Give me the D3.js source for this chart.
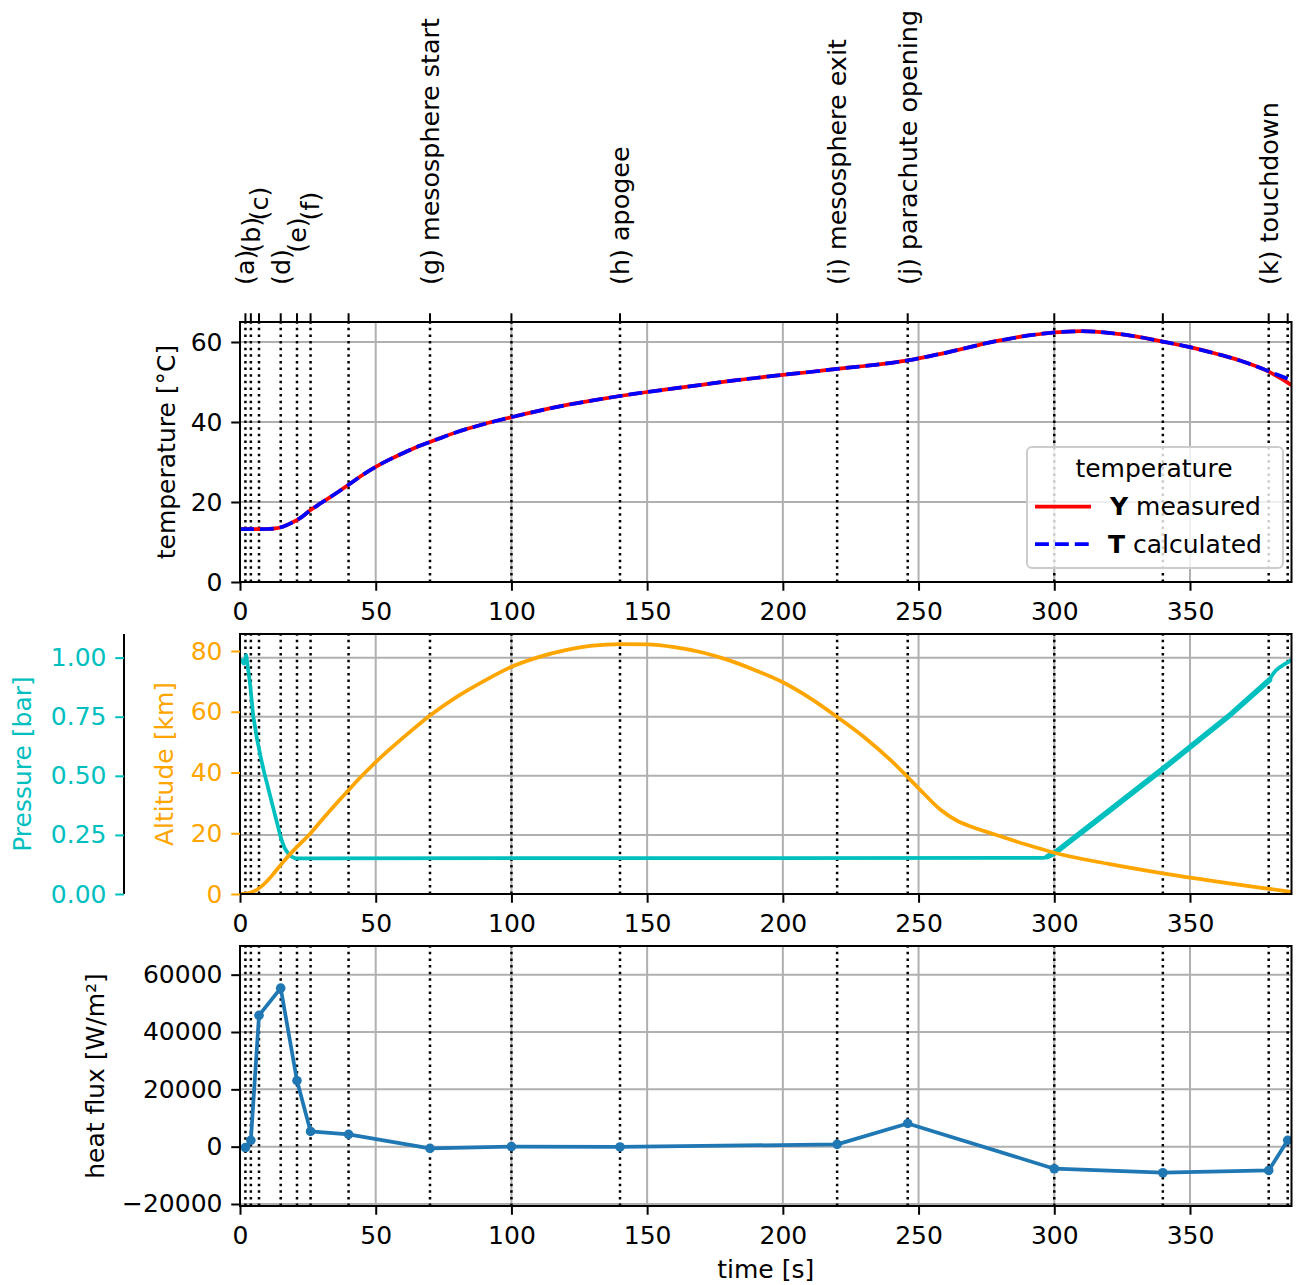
<!DOCTYPE html>
<html>
<head>
<meta charset="utf-8">
<script src="https://cdn.jsdelivr.net/npm/d3@7"></script>
<style>
  body { margin: 0; background: #fff; }
  svg text { font-family: "DejaVu Sans", sans-serif; }
</style>
</head>
<body>
<svg id="chart" width="1300" height="1285"></svg>
<script>
// ---- flight events (s) and their labels on the top axis ----
const eventTimes = [2, 4, 7, 15, 21, 26, 40, 70, 100, 140, 220, 246, 300, 340, 379, 386];
const eventLabels = ["(a)", "    (b)", "        (c)", "(d)", "    (e)", "        (f)", "",
  "(g) mesosphere start", "", "(h) apogee", "(i) mesosphere exit", "(j) parachute opening",
  "", "", "(k) touchdown", ""];

// ---- temperature ----
const tempTime = [0, 5, 10, 13, 16, 19, 22, 26, 30, 35, 40, 45, 50, 55, 60, 65, 70, 80, 90, 100,
  110, 120, 130, 140, 150, 160, 170, 180, 190, 200, 210, 220, 230, 240, 246, 250, 255, 260, 265, 270,
  275, 280, 285, 290, 295, 300, 305, 310, 315, 320, 330, 340, 350, 360, 370, 379, 383, 387.4];
const tempMeasured = [13.2, 13.2, 13.25, 13.4, 13.9, 14.8, 15.9, 18.0, 19.8, 22.0,
  24.3, 26.7, 28.8, 30.6, 32.2, 33.7, 35.0, 37.5, 39.5, 41.2,
  42.8, 44.2, 45.4, 46.5, 47.5, 48.4, 49.3, 50.2, 51.0, 51.8,
  52.5, 53.3, 54.0, 54.8, 55.4, 55.9, 56.6, 57.3, 58.1, 58.9,
  59.7, 60.4, 61.0, 61.6, 62.0, 62.4, 62.6, 62.7, 62.6, 62.3,
  61.4, 60.1, 58.7, 57.0, 55.0, 52.6, 51.1, 49.2];
const tempCalculated = [13.2, 13.2, 13.25, 13.4, 13.9, 14.8, 15.9, 18.0, 19.8, 22.0,
  24.3, 26.7, 28.8, 30.6, 32.2, 33.7, 35.0, 37.5, 39.5, 41.2,
  42.8, 44.2, 45.4, 46.5, 47.5, 48.4, 49.3, 50.2, 51.0, 51.8,
  52.5, 53.3, 54.0, 54.8, 55.4, 55.9, 56.6, 57.3, 58.1, 58.9,
  59.7, 60.4, 61.0, 61.6, 62.0, 62.4, 62.6, 62.7, 62.6, 62.3,
  61.4, 60.1, 58.7, 57.0, 55.0, 52.7, 51.6, 50.5];

// ---- altitude (km) ----
const altTime = [0, 2, 4, 6, 8, 10, 12, 15, 20, 26, 30, 35, 40, 45, 50, 55, 60, 70, 80, 90,
  100, 110, 120, 130, 140, 150, 160, 170, 180, 190, 200, 210, 220, 230, 240, 246, 252, 258, 264, 270,
  277, 290, 300, 320, 340, 360, 375, 387.4];
const altitude = [0, 0.1, 0.5, 1.3, 2.6, 4.3, 6.3, 9.6, 14.6, 20,
  24.2, 29.3, 34.2, 39, 43.4, 47.5, 51.4, 58.8, 65, 70.2,
  74.8, 78, 80.3, 81.8, 82.3, 82.2, 81.3, 79.6, 77, 73.6,
  69.7, 64.5, 58.3, 51.6, 43.8, 38.5, 33.0, 27.8, 24.2, 22.0,
  19.9, 16.2, 13.6, 9.9, 6.8, 4.1, 2.2, 0.7];

// ---- pressure (bar) ----
const presTime = [0, 1.4, 2.3, 3.0, 3.7, 4.3, 4.9, 5.5, 6.2, 7.0, 7.6, 8.4, 9.2, 10, 11, 12, 13, 14, 14.75,
  15.5, 16.3, 17.2, 18, 19, 20.3, 100, 200, 296.3, 297.5, 300.3, 320, 340.3, 364, 379.3, 380.5, 381.8,
  383.2, 384.5, 386, 387.4];
const pressure = [0.995, 0.975, 1.01, 0.95, 0.89, 0.82, 0.75, 0.71, 0.66, 0.615, 0.58, 0.54, 0.5, 0.465,
  0.42, 0.375, 0.33, 0.285, 0.25, 0.222, 0.198, 0.18, 0.168, 0.158, 0.151, 0.152, 0.152, 0.153, 0.158,
  0.175, 0.35, 0.532, 0.75, 0.906, 0.93, 0.948, 0.96, 0.97, 0.98, 0.99];

// ---- heat flux (W/m²) at the event times ----
const heatFlux = [-300, 2200, 45800, 55300, 23000, 5300, 4300, -600, 0, -100, 800, 8100, -7700, -9100, -8300, 2200];

// ---- tick values ----
const timeTicks = [0, 50, 100, 150, 200, 250, 300, 350];
const tempTicks = [0, 20, 40, 60];
const altTicks = [0, 20, 40, 60, 80];
const presTicks = [0, 0.25, 0.5, 0.75, 1.0];
const fluxTicks = [-20000, 0, 20000, 40000, 60000];

// ---- layout ----
const FS = 25, TICK = 8.75, LW = 3.75;
const left = 240, right = 1291.5;
const P = {
  temp: { top: 322, bottom: 582 },
  air:  { top: 634, bottom: 894 },
  flux: { top: 946, bottom: 1206 }
};
const svg = d3.select("#chart");

const x = d3.scaleLinear().domain([0, 387.4]).range([left, right]);
const yTemp = d3.scaleLinear().domain([0, 65]).range([P.temp.bottom, P.temp.top]);
const yAlt = d3.scaleLinear().domain([0, 85.6]).range([P.air.bottom, P.air.top]);
const yPres = d3.scaleLinear().domain([0, 1.1]).range([P.air.bottom, P.air.top]);
const yFlux = d3.scaleLinear().domain([-20700, 70000]).range([P.flux.bottom, P.flux.top]);

function styleAxis(g, color) {
  g.attr("font-size", FS).attr("font-family", null);
  g.select(".domain").remove();
  g.selectAll(".tick line").attr("stroke", color).attr("stroke-width", 2);
  g.selectAll(".tick text").attr("fill", color);
}

function panelBase(key, yScale, yTicks) {
  const p = P[key];
  const g = svg.append("g");
  svg.append("clipPath").attr("id", "clip-" + key)
    .append("rect").attr("x", left).attr("y", p.top)
    .attr("width", right - left).attr("height", p.bottom - p.top);
  // grid
  g.selectAll(".vg").data(timeTicks).join("line")
    .attr("x1", d => x(d)).attr("x2", d => x(d))
    .attr("y1", p.top).attr("y2", p.bottom)
    .attr("stroke", "#b0b0b0").attr("stroke-width", 2);
  g.selectAll(".hg").data(yTicks).join("line")
    .attr("x1", left).attr("x2", right)
    .attr("y1", d => yScale(d)).attr("y2", d => yScale(d))
    .attr("stroke", "#b0b0b0").attr("stroke-width", 2);
  // event markers
  g.selectAll(".ev").data(eventTimes).join("line")
    .attr("x1", d => x(d)).attr("x2", d => x(d))
    .attr("y1", p.bottom).attr("y2", p.top)
    .attr("stroke", "#000").attr("stroke-width", 2.5)
    .attr("stroke-dasharray", "2.5,4.125");
  // bottom time axis
  const ax = svg.append("g").attr("transform", `translate(0,${p.bottom})`)
    .call(d3.axisBottom(x).tickValues(timeTicks).tickFormat(d3.format("d"))
      .tickSize(TICK).tickPadding(11.5).tickSizeOuter(0));
  styleAxis(ax, "#000");
  const data = svg.append("g").attr("clip-path", `url(#clip-${key})`);
  return data;
}

function frame(key) {
  const p = P[key];
  svg.append("rect").attr("x", left).attr("y", p.top)
    .attr("width", right - left).attr("height", p.bottom - p.top)
    .attr("fill", "none").attr("stroke", "#000").attr("stroke-width", 2);
}

// ================= temperature panel =================
const gT = panelBase("temp", yTemp, tempTicks);
const lineT = (vals) => d3.line().x((d, i) => x(tempTime[i])).y(d => yTemp(d)).curve(d3.curveMonotoneX)(vals);
gT.append("path").attr("d", lineT(tempMeasured)).attr("fill", "none")
  .attr("stroke", "#ff0000").attr("stroke-width", LW);
gT.append("path").attr("d", lineT(tempCalculated)).attr("fill", "none")
  .attr("stroke", "#0000ff").attr("stroke-width", LW).attr("stroke-dasharray", "13.9,6");
frame("temp");
const axT = svg.append("g").attr("transform", `translate(${left},0)`)
  .call(d3.axisLeft(yTemp).tickValues(tempTicks).tickFormat(d3.format("d"))
    .tickSize(TICK).tickPadding(8.75).tickSizeOuter(0));
styleAxis(axT, "#000");
svg.append("text").attr("transform", `translate(175,${(P.temp.top + P.temp.bottom) / 2}) rotate(-90)`)
  .attr("text-anchor", "middle").attr("font-size", FS).text("temperature [°C]");

// top event axis
svg.append("g").selectAll("line").data(eventTimes).join("line")
  .attr("x1", d => x(d)).attr("x2", d => x(d))
  .attr("y1", P.temp.top).attr("y2", P.temp.top - TICK)
  .attr("stroke", "#000").attr("stroke-width", 2);
svg.append("g").selectAll("text").data(eventTimes).join("text")
  .attr("transform", d => `translate(${x(d)},285) rotate(-90)`)
  .attr("dy", "0.35em").attr("text-anchor", "start").attr("font-size", 25.4)
  .attr("xml:space", "preserve").style("white-space", "pre")
  .text((d, i) => eventLabels[i]);

// legend
const lg = svg.append("g");
lg.append("rect").attr("x", 1027).attr("y", 447).attr("width", 256).attr("height", 121)
  .attr("rx", 5).attr("fill", "#fff").attr("fill-opacity", 0.8)
  .attr("stroke", "#cccccc").attr("stroke-width", 2);
lg.append("text").attr("x", 1154).attr("y", 477).attr("text-anchor", "middle")
  .attr("font-size", FS).text("temperature");
lg.append("line").attr("x1", 1035).attr("x2", 1091).attr("y1", 506.5).attr("y2", 506.5)
  .attr("stroke", "#ff0000").attr("stroke-width", LW);
lg.append("line").attr("x1", 1035).attr("x2", 1091).attr("y1", 544).attr("y2", 544)
  .attr("stroke", "#0000ff").attr("stroke-width", LW).attr("stroke-dasharray", "13.9,6");
const t1 = lg.append("text").attr("x", 1110).attr("y", 515).attr("font-size", FS);
t1.append("tspan").attr("font-weight", "bold").text("Y");
t1.append("tspan").text(" measured");
const t2 = lg.append("text").attr("x", 1108).attr("y", 552.5).attr("font-size", FS);
t2.append("tspan").attr("font-weight", "bold").text("T");
t2.append("tspan").text(" calculated");

// ================= pressure / altitude panel =================
const CYAN = "#00bfbf", ORANGE = "#ffa500";
const gA = panelBase("air", yPres, presTicks);
const presLine = d3.line().x((d, i) => x(d[0])).y(d => yPres(d[1]));
const presPts = presTime.map((t, i) => [t, pressure[i]]);
gA.append("path")
  .attr("d", presLine(presPts))
  .attr("fill", "none").attr("stroke", CYAN).attr("stroke-width", LW).attr("stroke-linejoin", "round");
// the noisy ascent reads thicker
gA.append("path")
  .attr("d", presLine(presPts.filter(d => d[0] >= 297.5 && d[0] <= 379.3)))
  .attr("fill", "none").attr("stroke", CYAN).attr("stroke-width", 5.5).attr("stroke-linecap", "round");
gA.append("path")
  .attr("d", d3.line().x((d, i) => x(altTime[i])).y(d => yAlt(d)).curve(d3.curveMonotoneX)(altitude))
  .attr("fill", "none").attr("stroke", ORANGE).attr("stroke-width", LW);
frame("air");
const axAlt = svg.append("g").attr("transform", `translate(${left},0)`)
  .call(d3.axisLeft(yAlt).tickValues(altTicks).tickFormat(d3.format("d"))
    .tickSize(TICK).tickPadding(8.75).tickSizeOuter(0));
styleAxis(axAlt, ORANGE);
svg.append("text").attr("transform", `translate(173,${(P.air.top + P.air.bottom) / 2}) rotate(-90)`)
  .attr("text-anchor", "middle").attr("font-size", FS).attr("fill", ORANGE).text("Altitude [km]");
// offset pressure spine
const presX = 124;
svg.append("line").attr("x1", presX).attr("x2", presX).attr("y1", P.air.top).attr("y2", P.air.bottom)
  .attr("stroke", "#000").attr("stroke-width", 2);
const axP = svg.append("g").attr("transform", `translate(${presX},0)`)
  .call(d3.axisLeft(yPres).tickValues(presTicks).tickFormat(d3.format(".2f"))
    .tickSize(TICK).tickPadding(8.75).tickSizeOuter(0));
styleAxis(axP, CYAN);
svg.append("text").attr("transform", `translate(31,${(P.air.top + P.air.bottom) / 2}) rotate(-90)`)
  .attr("text-anchor", "middle").attr("font-size", FS).attr("fill", CYAN).text("Pressure [bar]");

// ================= heat flux panel =================
const BLUE = "#1f77b4";
const gF = panelBase("flux", yFlux, fluxTicks);
gF.append("path")
  .attr("d", d3.line().x((d, i) => x(eventTimes[i])).y(d => yFlux(d))(heatFlux))
  .attr("fill", "none").attr("stroke", BLUE).attr("stroke-width", LW).attr("stroke-linejoin", "round");
gF.selectAll("circle").data(heatFlux).join("circle")
  .attr("cx", (d, i) => x(eventTimes[i])).attr("cy", d => yFlux(d)).attr("r", 4.8).attr("fill", BLUE);
frame("flux");
const axF = svg.append("g").attr("transform", `translate(${left},0)`)
  .call(d3.axisLeft(yFlux).tickValues(fluxTicks).tickFormat(d3.format("d"))
    .tickSize(TICK).tickPadding(8.75).tickSizeOuter(0));
styleAxis(axF, "#000");
svg.append("text").attr("transform", `translate(104,${(P.flux.top + P.flux.bottom) / 2}) rotate(-90)`)
  .attr("text-anchor", "middle").attr("font-size", FS).text("heat flux [W/m²]");
svg.append("text").attr("x", (left + right) / 2).attr("y", 1278)
  .attr("text-anchor", "middle").attr("font-size", FS).text("time [s]");
</script>
</body>
</html>
